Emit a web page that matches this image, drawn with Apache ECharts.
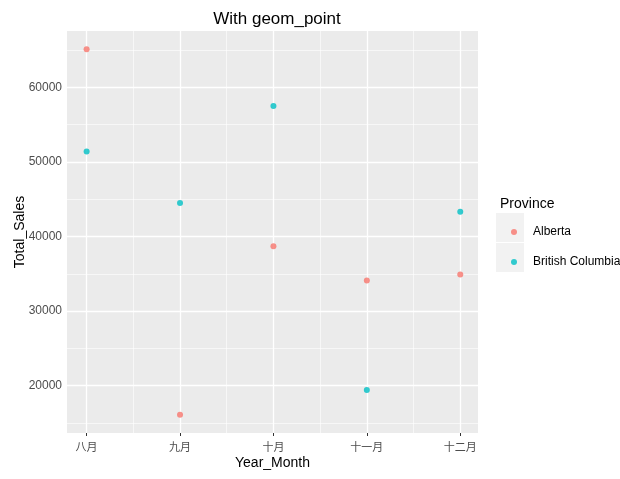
<!DOCTYPE html>
<html>
<head>
<meta charset="utf-8">
<script src="https://cdn.jsdelivr.net/npm/echarts@6/dist/echarts.min.js"></script>
<style>html,body{margin:0;padding:0;background:#fff;}#c{width:620px;height:479px;}</style>
</head>
<body>
<div id="c"></div>
<script>
const months = ['八月', '九月', '十月', '十一月', '十二月'];
const alberta = [65100, 16100, 38700, 34100, 34900];
const britishColumbia = [51400, 44500, 57500, 19400, 43300];
const yMajorTicks = [20000, 30000, 40000, 50000, 60000];
const yMinorTicks = [15000, 25000, 35000, 45000, 55000, 65000];
const xMinorTicks = [0.5, 1.5, 2.5, 3.5];

const allVals = alberta.concat(britishColumbia);
const lo = Math.min.apply(null, allVals), hi = Math.max.apply(null, allVals);
const yMin = lo - 0.05 * (hi - lo), yMax = hi + 0.05 * (hi - lo);
const xIdx = months.map((m, i) => i);

const FONT = "'Liberation Sans', Arial, sans-serif";
const chart = echarts.init(document.getElementById('c'), null, {renderer: 'canvas'});

const gridLines = [];
yMinorTicks.forEach(v => gridLines.push({yAxis: v, lineStyle: {width: 0.6}}));
xMinorTicks.forEach(v => gridLines.push({xAxis: v, lineStyle: {width: 0.6}}));
yMajorTicks.forEach(v => gridLines.push({yAxis: v, lineStyle: {width: 1.3}}));
xIdx.forEach(v => gridLines.push({xAxis: v, lineStyle: {width: 1.3}}));

chart.setOption({
  backgroundColor: '#ffffff',
  animation: false,
  title: [
    {text: 'With geom_point', left: 272, top: 6, textAlign: 'center',
     textStyle: {fontFamily: FONT, fontSize: 17, fontWeight: 'normal', color: '#000'}},
    {text: 'Province', left: 495, top: 192,
     textStyle: {fontFamily: FONT, fontSize: 14, fontWeight: 'normal', color: '#000'}}
  ],
  graphic: [
    {type: 'rect', left: 496, top: 213, shape: {width: 28, height: 29}, style: {fill: '#F2F2F2'}, z: 0},
    {type: 'rect', left: 496, top: 243, shape: {width: 28, height: 29}, style: {fill: '#F2F2F2'}, z: 0}
  ],
  legend: {
    orient: 'vertical', left: 506, top: 220,
    icon: 'circle', itemWidth: 6, itemHeight: 6, itemGap: 16,
    textStyle: {fontFamily: FONT, fontSize: 12, color: '#000', lineHeight: 14, padding: [0, 0, 0, 11]},
    data: ['Alberta', 'British Columbia']
  },
  grid: {left: 67, right: 142, top: 31, bottom: 46, show: true, backgroundColor: '#EBEBEB',
         borderWidth: 0, outerBoundsMode: 'none', containLabel: false},
  xAxis: {
    type: 'value', min: -0.21, max: 4.19,
    name: 'Year_Month', nameLocation: 'middle', nameGap: 23, nameMoveOverlap: false,
    nameTextStyle: {fontFamily: FONT, fontSize: 14, color: '#000'},
    axisLine: {show: false},
    axisTick: {show: true, length: 3, lineStyle: {color: '#333', width: 1}, customValues: xIdx},
    axisLabel: {customValues: xIdx, margin: 8, formatter: v => months[Math.round(v)],
      fontFamily: "'Noto Sans CJK SC', sans-serif", fontSize: 11, color: '#4D4D4D'},
    splitLine: {show: false}
  },
  yAxis: {
    type: 'value', min: yMin, max: yMax,
    name: 'Total_Sales', nameLocation: 'middle', nameGap: 40, nameRotate: 90, nameMoveOverlap: false,
    nameTextStyle: {fontFamily: FONT, fontSize: 14, color: '#000'},
    axisLine: {show: false},
    axisTick: {show: true, length: 3, lineStyle: {color: '#333', width: 1}, customValues: yMajorTicks},
    axisLabel: {customValues: yMajorTicks, margin: 5, formatter: v => String(v),
      fontFamily: FONT, fontSize: 12, color: '#4D4D4D'},
    splitLine: {show: false}
  },
  series: [
    {type: 'scatter', name: '_grid', data: [], z: 1, silent: true,
     markLine: {z: 1, silent: true, symbol: ['none', 'none'], label: {show: false},
       lineStyle: {color: '#ffffff', type: 'solid'}, emphasis: {disabled: true},
       animation: false, data: gridLines}},
    {type: 'scatter', name: 'Alberta', z: 3, symbol: 'circle', symbolSize: 6,
     itemStyle: {color: '#F8766D'}, data: alberta.map((v, i) => [i, v])},
    {type: 'scatter', name: 'British Columbia', z: 3, symbol: 'circle', symbolSize: 6,
     itemStyle: {color: '#00BFC4'}, data: britishColumbia.map((v, i) => [i, v])}
  ]
});
</script>
</body>
</html>
